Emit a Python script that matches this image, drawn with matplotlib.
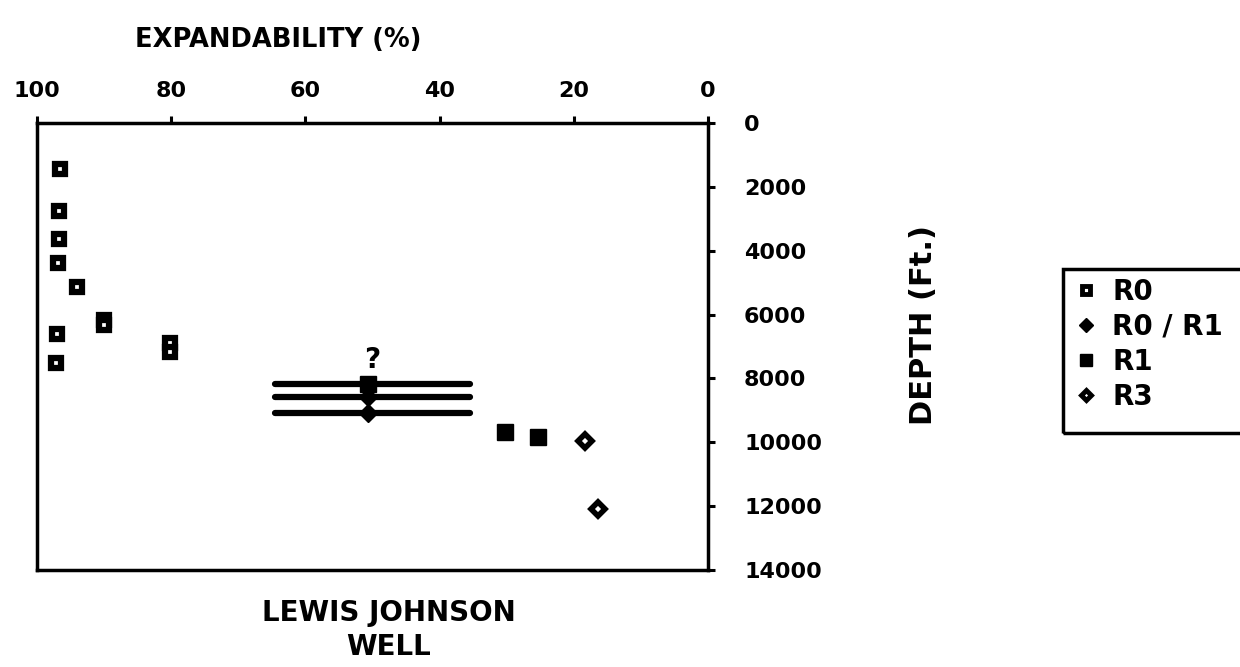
import matplotlib
matplotlib.use('Agg')
import matplotlib.pyplot as plt
from matplotlib.lines import Line2D
from matplotlib.patches import Rectangle

# ---- data ----
x_ticks = [100, 80, 60, 40, 20, 0]
y_ticks = [0, 2000, 4000, 6000, 8000, 10000, 12000, 14000]

r0_exp = [96.6, 96.7, 96.7, 96.8, 94.1, 90.0, 90.0, 97.0, 80.2, 80.2, 97.1]
r0_depth = [1450, 2750, 3640, 4400, 5130, 6170, 6330, 6620, 6900, 7160, 7510]

r0r1_exp = [50.6, 50.6]
r0r1_depth = [8570, 9090]

r1_exp = [50.6, 30.3, 25.3]
r1_depth = [8180, 9670, 9820]

r3_exp = [18.3, 16.4]
r3_depth = [9950, 12100]

range_exp = [50.0, 50.0, 50.0]
range_depth = [8180, 8570, 9090]
range_err = [14.5, 14.5, 14.5]

legend_labels = ['R0', 'R0 / R1', 'R1', 'R3']

# ---- figure ----
W, H = 1240, 667
fig = plt.figure(figsize=(W / 100, H / 100), dpi=100)
ax = fig.add_axes([37 / W, 1 - 570 / H, (708 - 37) / W, (570 - 123) / H])
ax.set_xlim(100, 0)
ax.set_ylim(14000, 0)
ax.xaxis.tick_top()
ax.yaxis.tick_right()
ax.set_xticks(x_ticks)
ax.set_yticks(y_ticks)
ax.set_xticklabels([str(v) for v in x_ticks])
ax.set_yticklabels([str(v) for v in y_ticks])
ax.tick_params(axis='x', direction='out', length=5, width=2.2, pad=11, labelsize=16)
ax.tick_params(axis='y', direction='out', length=5, width=2.2, pad=21, labelsize=16)
for lab in ax.get_xticklabels() + ax.get_yticklabels():
    lab.set_fontweight('bold')
for sp in ax.spines.values():
    sp.set_linewidth(2.5)

# range bars
eb = ax.errorbar(range_exp, range_depth, xerr=range_err, fmt='none',
                 ecolor='black', elinewidth=4.5, capsize=0)
for lc in eb.lines[2]:
    lc.set_capstyle('round')

ax.plot(r0_exp, r0_depth, ls='none', marker='s', ms=7.5, mfc='white', mec='black', mew=4.5)
ax.plot(r0r1_exp, r0r1_depth, ls='none', marker='D', ms=9, mfc='black', mec='black', mew=1)
ax.plot(r1_exp, r1_depth, ls='none', marker='s', ms=11, mfc='black', mec='black', mew=1)
ax.plot(r3_exp, r3_depth, ls='none', marker='D', ms=7, mfc='white', mec='black', mew=4)

ax.text(50.0, 7420, '?', ha='center', va='center', fontsize=20, fontweight='bold')

# texts
fig.text(278 / W, 1 - 40 / H, 'EXPANDABILITY (%)', ha='center', va='center',
         fontsize=18.5, fontweight='bold')
fig.text(389 / W, 1 - 613 / H, 'LEWIS JOHNSON', ha='center', va='center',
         fontsize=20, fontweight='bold')
fig.text(389 / W, 1 - 647 / H, 'WELL', ha='center', va='center',
         fontsize=20, fontweight='bold')
fig.text(923 / W, 1 - 325 / H, 'DEPTH (Ft.)', ha='center', va='center',
         rotation=90, fontsize=22, fontweight='bold')

# legend
handles = [
    Line2D([], [], ls='none', marker='s', ms=5.5, mfc='white', mec='black', mew=3.5),
    Line2D([], [], ls='none', marker='D', ms=7, mfc='black', mec='black', mew=1),
    Line2D([], [], ls='none', marker='s', ms=8, mfc='black', mec='black', mew=1),
    Line2D([], [], ls='none', marker='D', ms=5.5, mfc='white', mec='black', mew=3.5),
]
fig.legend(handles, legend_labels, loc='upper left',
           bbox_to_anchor=(1075 / W, 1 - 278 / H), frameon=False,
           prop={'size': 20, 'weight': 'bold'}, handlelength=0.8,
           handletextpad=0.55, labelspacing=0.25, borderpad=0, borderaxespad=0)
fig.patches.append(Rectangle((1063 / W, 1 - 433 / H), (1270 - 1063) / W, (433 - 269) / H,
                             transform=fig.transFigure, fill=False, lw=2.5,
                             edgecolor='black', clip_on=False))

fig.savefig('out.png', dpi=100, facecolor='white')
